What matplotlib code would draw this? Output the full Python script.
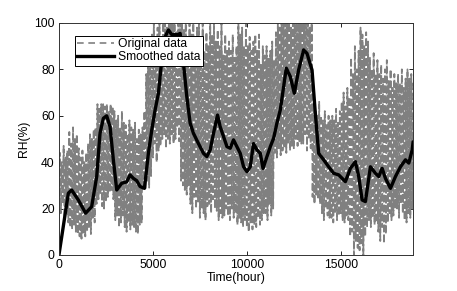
import matplotlib
matplotlib.use("Agg")
import matplotlib.pyplot as plt
from matplotlib.lines import Line2D
import numpy as np

plt.rcParams['font.family'] = ['Liberation Sans', 'DejaVu Sans']
plt.rcParams['font.size'] = 8.7

# original RH readings, one value every 50 hours (estimated from the figure)
step_hours = 50
original_rh = [
    25, 44, 18, 40, 22, 47, 16, 42, 20, 45,
    14, 53, 12, 48, 11, 55, 13, 50, 10, 52,
    9, 46, 8, 42, 7, 45, 9, 40, 8, 44,
    10, 48, 12, 52, 9, 50, 16, 54, 14, 55,
    22, 65, 24, 63, 26, 65, 21, 65, 20, 64,
    23, 65, 25, 62, 27, 65, 28, 64, 24, 62,
    15, 58, 17, 60, 12, 55, 14, 62, 17, 57,
    12, 56, 10, 52, 14, 58, 11, 55, 13, 54,
    12, 57, 10, 50, 9, 54, 13, 52, 14, 55,
    30, 62, 28, 78, 32, 85, 29, 90, 34, 95,
    42, 100, 48, 92, 40, 98, 45, 100, 47, 94,
    50, 100, 52, 100, 46, 98, 50, 100, 48, 100,
    52, 100, 48, 100, 50, 96, 55, 100, 49, 100,
    32, 100, 30, 97, 28, 100, 26, 94, 30, 100,
    22, 95, 18, 100, 25, 90, 20, 98, 23, 100,
    16, 92, 20, 100, 18, 88, 15, 96, 21, 90,
    22, 100, 18, 95, 24, 100, 20, 92, 19, 97,
    15, 90, 18, 100, 16, 86, 17, 95, 20, 88,
    17, 92, 15, 88, 20, 95, 16, 85, 18, 90,
    13, 100, 16, 95, 14, 98, 12, 90, 15, 100,
    12, 90, 10, 94, 14, 88, 11, 92, 13, 95,
    12, 88, 16, 95, 13, 82, 15, 90, 18, 86,
    18, 90, 15, 85, 22, 88, 17, 92, 20, 84,
    44, 96, 42, 100, 46, 98, 43, 100, 45, 100,
    46, 100, 44, 100, 48, 100, 45, 98, 47, 100,
    46, 100, 50, 100, 47, 100, 49, 100, 48, 100,
    48, 100, 52, 100, 45, 100, 50, 98, 46, 100,
    25, 65, 22, 62, 26, 60, 24, 66, 22, 60,
    18, 58, 15, 62, 20, 56, 17, 60, 16, 58,
    16, 60, 14, 58, 18, 63, 15, 57, 17, 62,
    18, 66, 15, 70, 14, 64, 17, 72, 15, 68,
    8, 85, 10, 78, 0, 90, 6, 80, 3, 88,
    2, 98, 5, 95, 0, 90, 8, 96, 12, 92,
    15, 85, 12, 80, 16, 87, 13, 78, 14, 84,
    10, 78, 6, 82, 12, 76, 5, 80, 9, 84,
    14, 75, 18, 80, 15, 72, 17, 78, 20, 74,
    20, 78, 16, 74, 22, 80, 18, 72, 15, 76,
    14, 80, 18, 76, 16, 78, 20, 75,
]
original_t = np.arange(len(original_rh)) * step_hours

# smoothed curve
smooth_t = [0, 500, 675, 1030, 1420, 1740, 2010, 2185, 2363, 2540, 2720, 2895,
            3075, 3340, 3605, 3785, 3960, 4140, 4318, 4550, 4760, 4940, 5117,
            5295, 5472, 5650, 5828, 6000, 6330, 6450, 6627, 6805, 6983, 7160,
            7425, 7692, 7870, 8050, 8225, 8440, 8580, 8760, 8940, 9115, 9290,
            9470, 9648, 9826, 10005, 10180, 10357, 10537, 10715, 10860, 11070,
            11250, 11425, 11600, 11780, 11957, 12100, 12313, 12527, 12756,
            13022, 13200, 13470, 13646, 13822, 14088, 14355, 14620, 14890,
            15245, 15510, 15780, 15955, 16135, 16311, 16578, 16844, 17022,
            17200, 17377, 17644, 17910, 18177, 18443, 18620, 18800, 18850]
smooth_rh = [0, 26.6, 28, 23.7, 18, 20.8, 33.8, 52.4, 58.9, 60, 55.3, 41,
             28, 30.9, 31.5, 34.5, 33, 32, 29.5, 28.7, 43.8, 53.9, 62.5,
             69.7, 84, 94, 97, 95, 95, 95.5, 82.6, 68.2, 56.8, 52.4,
             48, 43.8, 42.4, 45.3, 52.4, 60.3, 55.3, 51, 46.7, 46, 49.6,
             46.7, 43.8, 38, 35.9, 38, 48, 45.3, 43.8, 37.3, 42.4,
             46.7, 50.3, 56.8, 62.5, 72.5, 80.5, 76.9, 69.7, 79.7,
             88.4, 86.9, 79.7, 61, 43.8, 41, 38, 35.2, 34.5,
             31.6, 37.3, 40.2, 33.8, 23.7, 23, 38, 35.2, 33.8,
             37.3, 33, 28.7, 33.8, 38, 41, 39.6, 45.3, 48.8]

fig = plt.figure(figsize=(4.57, 2.91), dpi=100)
ax = fig.add_axes([0.129, 0.124, 0.775, 0.797])

ax.plot(original_t, original_rh, color='#808080', linestyle='--', linewidth=1.3,
        dashes=(4, 1.5))
ax.plot(smooth_t, smooth_rh, color='black', linewidth=2.4,
        solid_joinstyle='round', solid_capstyle='round')

ax.set_xlim(0, 18850)
ax.set_ylim(0, 100)
ax.set_xticks([0, 5000, 10000, 15000])
ax.set_yticks([0, 20, 40, 60, 80, 100])
ax.tick_params(direction='in', length=3, width=0.6, top=True, right=True, pad=3)
for s in ax.spines.values():
    s.set_linewidth(0.7)
    s.set_color('#333333')

ax.set_xlabel('Time(hour)', labelpad=1)
ax.set_ylabel('RH(%)', labelpad=3)

# legend handles (dash spacing as in the original legend)
handles = [Line2D([], [], color='#808080', linewidth=1.2, dashes=(4, 2.8)),
           Line2D([], [], color='black', linewidth=2.4)]
leg = ax.legend(handles, ['Original data', 'Smoothed data'], loc='upper left',
                bbox_to_anchor=(0.045, 0.945), fancybox=False,
                edgecolor='black', framealpha=1, borderpad=0.2, labelspacing=0.1,
                handlelength=3.0, handletextpad=0.4, borderaxespad=0)
leg.get_frame().set_linewidth(0.7)

fig.savefig('out.png', dpi=100)
